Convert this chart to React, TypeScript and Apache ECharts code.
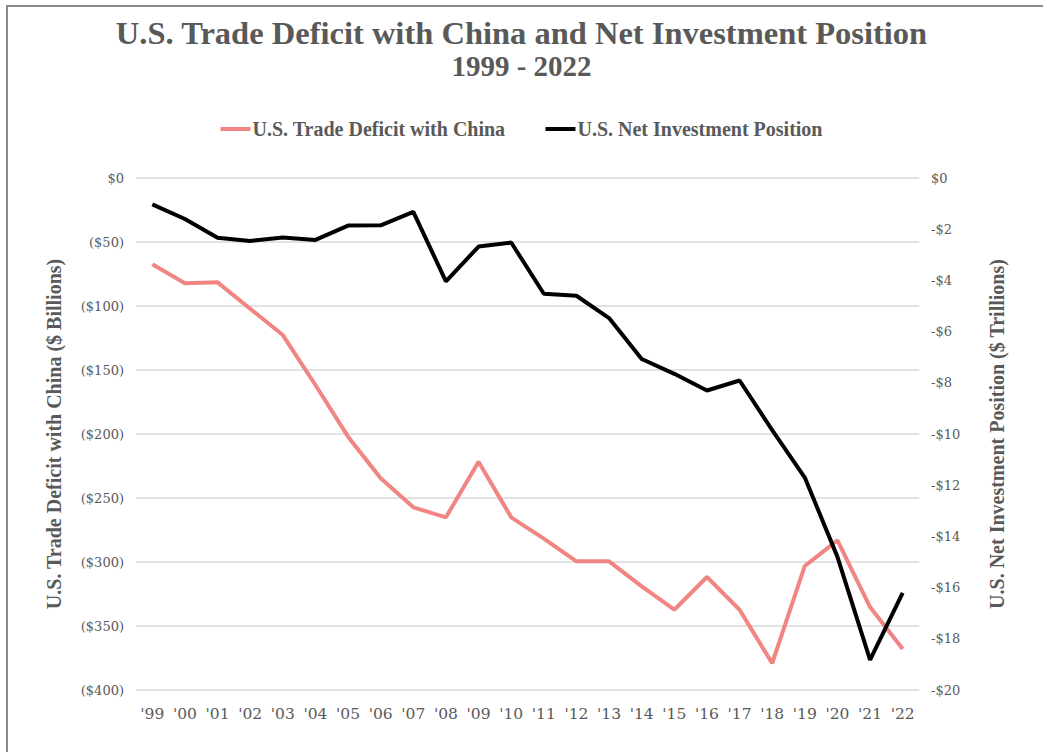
import React, { useEffect, useRef } from "react";
import * as echarts from "echarts";

const years = ["'99", "'00", "'01", "'02", "'03", "'04", "'05", "'06", "'07", "'08", "'09", "'10", "'11", "'12", "'13", "'14", "'15", "'16", "'17", "'18", "'19", "'20", "'21", "'22"];
const tradeDeficit = [-67.4, -82.3, -81.5, -102.1, -122.7, -161.7, -202.1, -234.6, -257.3, -265.1, -221.6, -265.1, -281.7, -299.5, -299.5, -319.1, -337.3, -311.7, -337.3, -379.1, -303.1, -283.1, -335.2, -367.9];
const netInvestment = [-1.03, -1.6, -2.33, -2.46, -2.32, -2.42, -1.86, -1.85, -1.32, -4.04, -2.68, -2.52, -4.52, -4.6, -5.47, -7.07, -7.65, -8.3, -7.91, -9.85, -11.7, -14.8, -18.82, -16.21];

const FONT = "'DejaVu Serif', 'Liberation Serif', serif";
const BFONT = "'Liberation Serif', serif";
const GREY = "#595959";

export default function App() {
  const ref = useRef<HTMLDivElement>(null);
  useEffect(() => {
    document.body.style.margin = "0";
    const chart = echarts.init(ref.current!, null, { renderer: "svg" });
    chart.setOption({
      animation: false,
      backgroundColor: "#fff",
      textStyle: { fontFamily: FONT },
      title: {
        text: "U.S. Trade Deficit with China and Net Investment Position",
        subtext: "1999 - 2022",
        left: "center",
        top: 11,
        itemGap: 2,
        textStyle: { fontFamily: BFONT, fontWeight: "bold", fontSize: 32.5, color: GREY },
        subtextStyle: { fontFamily: BFONT, fontWeight: "bold", fontSize: 29, color: GREY },
      },
      legend: {
        top: 114,
        left: "center",
        itemGap: 40,
        itemWidth: 30,
        itemHeight: 4,
        textStyle: { fontFamily: BFONT, fontWeight: "bold", fontSize: 20, color: GREY, padding: [0, 0, 0, -3] },
        data: [
          { name: "U.S. Trade Deficit with China", icon: "rect" },
          { name: "U.S. Net Investment Position", icon: "rect" },
        ],
      },
      graphic: [
        {
          type: "rect",
          shape: { x: 7, y: 6, width: 1100, height: 800 },
          style: { fill: "none", stroke: "#8a8a8a", lineWidth: 2 },
          silent: true,
        },
      ],
      grid: { left: 136, right: 124, top: 178, bottom: 62 },
      xAxis: {
        type: "category",
        data: years,
        boundaryGap: true,
        axisLine: { show: false },
        axisTick: { show: false },
        axisLabel: { color: GREY, fontSize: 15.5, margin: 16, fontFamily: FONT },
      },
      yAxis: [
        {
          type: "value",
          min: -400,
          max: 0,
          interval: 50,
          name: "U.S. Trade Deficit with China ($ Billions)",
          nameLocation: "middle",
          nameGap: 72,
          nameRotate: 90,
          nameTextStyle: { fontFamily: BFONT, fontWeight: "bold", fontSize: 20, color: GREY },
          axisLine: { show: false },
          axisTick: { show: false },
          axisLabel: {
            color: GREY,
            fontSize: 13,
            margin: 12,
            fontFamily: FONT,
            formatter: (v: number) => (v === 0 ? "$0" : `($${Math.abs(v)})`),
          },
          splitLine: { lineStyle: { color: "#d9d9d9", width: 1.5 } },
        },
        {
          type: "value",
          min: -20,
          max: 0,
          interval: 2,
          name: "U.S. Net Investment Position ($ Trillions)",
          nameLocation: "middle",
          nameGap: 68,
          nameRotate: 90,
          nameTextStyle: { fontFamily: BFONT, fontWeight: "bold", fontSize: 20, color: GREY },
          axisLine: { show: false },
          axisTick: { show: false },
          axisLabel: {
            color: GREY,
            fontSize: 13,
            margin: 12,
            fontFamily: FONT,
            formatter: (v: number) => (v === 0 ? "$0" : `-$${Math.abs(v)}`),
          },
          splitLine: { show: false },
        },
      ],
      series: [
        {
          name: "U.S. Trade Deficit with China",
          type: "line",
          yAxisIndex: 0,
          data: tradeDeficit,
          symbol: "none",
          color: "#F08582",
          lineStyle: { width: 4, color: "#F08582" },
        },
        {
          name: "U.S. Net Investment Position",
          type: "line",
          yAxisIndex: 1,
          data: netInvestment,
          symbol: "none",
          color: "#000",
          lineStyle: { width: 4, color: "#000" },
        },
      ],
    });
    return () => chart.dispose();
  }, []);
  return <div ref={ref} style={{ width: 1043, height: 752 }} />;
}
